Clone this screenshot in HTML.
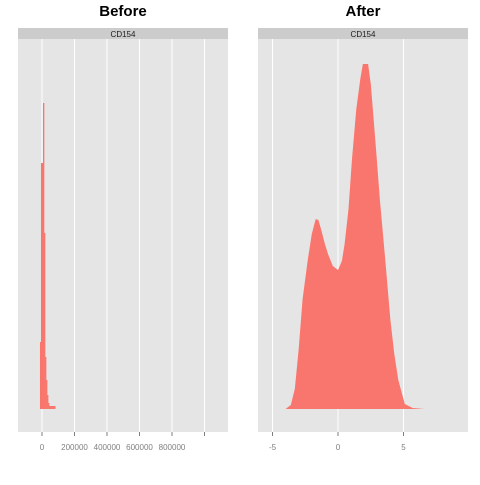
<!DOCTYPE html>
<html><head><meta charset="utf-8"><style>
body{margin:0;background:#fff;font-family:"Liberation Sans",sans-serif}
</style></head><body>
<svg width="480" height="480" xmlns="http://www.w3.org/2000/svg">
<g id="root"></g>
</svg>
<script>
// Before: histogram bins (start value, width) and heights
const beforeBinStarts=[-12500,-6250,0,6250,12500,18750,25000,31250,37500,43750,50000,56250,62500,68750,75000];
const beforeBinWidth=6250;
const beforeHeights=[0.067,0.246,0.246,0.306,0.176,0.052,0.029,0.014,0.006,0.003,0.003,0.003,0.003,0.003,0.003];
const beforeTicks=[0,200000,400000,600000,800000,1000000];
const beforeTickLabels=["0","200000","400000","600000","800000",""];
// After: density curve
const afterX=[-4.0,-3.6,-3.3,-3.0,-2.7,-2.3,-2.0,-1.7,-1.5,-1.3,-1.0,-0.76,-0.4,0,0.3,0.5,0.8,1.07,1.4,1.7,1.9,2.0,2.3,2.5,2.6,2.9,3.2,3.6,4.0,4.3,4.6,5.1,5.7,6.6];
const afterY=[0,0.004,0.02,0.06,0.11,0.15,0.175,0.19,0.189,0.18,0.165,0.155,0.143,0.139,0.148,0.165,0.2,0.25,0.3,0.33,0.345,0.345,0.345,0.325,0.309,0.26,0.209,0.15,0.089,0.055,0.029,0.005,0.001,0];
const afterTicks=[-5,0,5];
const afterTickLabels=["-5","0","5"];

const NS="http://www.w3.org/2000/svg";
const root=document.getElementById('root');
function mk(t,a,p){const e=document.createElementNS(NS,t);for(const k in a)e.setAttribute(k,a[k]);(p||root).appendChild(e);return e;}
const plotTop=39,plotBot=432,base=409;
const bx=v=>42+v/200000*32.5;
const ax=v=>338+v*13.1;
const by=v=>base-v*1000;
const ay=v=>base-v*1000;

function panel(x0,title,ticks,labels,xs,name){
  const g=mk('g',{});
  
  
  const t=mk('text',{x:x0+105,y:16,'text-anchor':'middle','font-size':15,'font-weight':'bold',fill:'#000'},g);
  t.textContent=title;
  
  
  const s=mk('rect',{x:x0,y:28,width:210,height:11,fill:'#cccccc'},g);
  
  
  const st=mk('text',{x:x0+105,y:37,'text-anchor':'middle','font-size':8,fill:'#1a1a1a'},g);
  st.textContent='CD154';
  
  
  const bg=mk('rect',{x:x0,y:plotTop,width:210,height:plotBot-plotTop,fill:'#e5e5e5'},g);
  
  
  ticks.forEach((v,i)=>{
    const px=xs(v);
    const gl=mk('line',{x1:px,x2:px,y1:plotTop,y2:plotBot,stroke:'#fff','stroke-width':1},g);
    
    
    const tk=mk('line',{x1:px,x2:px,y1:plotBot,y2:plotBot+4,stroke:'#7f7f7f','stroke-width':1},g);
    
    
    const tl=mk('text',{x:px,y:450,'text-anchor':'middle','font-size':8,fill:'#7f7f7f'},g);
    tl.textContent=labels[i];
    
    
  });
  return g;
}
const g1=panel(18,'Before',beforeTicks,beforeTickLabels,bx,'before');
beforeBinStarts.forEach((s,i)=>{
  const x1=bx(s),x2=bx(s+beforeBinWidth);
  const r=mk('rect',{x:x1,y:by(beforeHeights[i]),width:x2-x1+0.3,height:base-by(beforeHeights[i]),fill:'#f8766d'},g1);
  
  
});
const g2=panel(258,'After',afterTicks,afterTickLabels,ax,'after');
let d='M'+ax(afterX[0])+','+base;
afterX.forEach((v,i)=>{d+=' L'+ax(v).toFixed(1)+','+ay(afterY[i]).toFixed(1);});
d+=' L'+ax(afterX[afterX.length-1])+','+base+' Z';
const p=mk('path',{d:d,fill:'#f8766d'},g2);


</script>
</body></html>
